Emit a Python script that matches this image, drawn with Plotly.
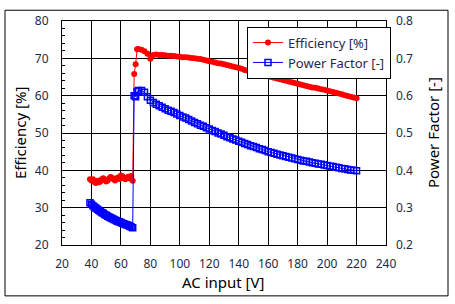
import plotly.graph_objects as go

# AC input voltage [V]
volt = [39, 40, 41, 42, 43, 44, 45, 46, 47, 48, 49, 50, 51, 52, 53, 54, 55, 56, 57, 58,
        59, 60, 61, 62, 63, 64, 65, 66, 67, 68, 69, 70, 71,
        72, 74, 76, 78, 80, 82, 84, 86, 88, 90, 92, 94, 96, 98, 100, 102, 104, 106, 108, 110,
        112, 114, 116, 118, 120, 122, 124, 126, 128, 130, 132, 134, 136, 138, 140, 142, 144,
        146, 148, 150, 152, 154, 156, 158, 160, 162, 164, 166, 168, 170, 172, 174, 176, 178,
        180, 182, 184, 186, 188, 190, 192, 194, 196, 198, 200, 202, 204, 206, 208, 210, 212,
        214, 216, 218, 220]

# Efficiency [%]
efficiency = [37.6, 37.3, 37.6, 36.9, 36.6, 37.2, 36.8, 37.0, 37.6, 37.9, 37.4, 37.0, 37.3, 37.8,
              38.2, 38.0, 37.6, 37.3, 37.8, 38.1, 37.7, 38.6, 38.4, 37.9, 37.6, 38.0, 38.3, 37.8,
              38.5, 37.2, 65.8, 68.4, 72.4,
              72.5, 72.3, 71.9, 71.2, 69.9, 70.9, 71.0, 70.9, 70.9, 70.8, 70.7, 70.7, 70.6, 70.5,
              70.4, 70.3, 70.3, 70.2, 70.1, 70.0, 69.9, 69.8, 69.6, 69.4, 69.2, 69.1, 68.9, 68.7,
              68.6, 68.4, 68.2, 68.0, 67.8, 67.6, 67.4, 67.2, 66.9, 66.7, 66.5, 66.3, 66.1, 65.9,
              65.6, 65.4, 65.2, 65.0, 64.8, 64.6, 64.4, 64.2, 64.0, 63.8, 63.6, 63.4, 63.2, 63.0,
              62.8, 62.6, 62.4, 62.2, 62.1, 61.9, 61.7, 61.6, 61.4, 61.2, 61.0, 60.8, 60.6, 60.4,
              60.1, 59.9, 59.7, 59.5, 59.3]

# Power factor [-]
power_factor = [0.313, 0.309, 0.305, 0.302, 0.299, 0.296, 0.293, 0.290, 0.287, 0.285, 0.282,
                0.280, 0.277, 0.275, 0.273, 0.271, 0.269, 0.267, 0.265, 0.263, 0.262, 0.260,
                0.258, 0.257, 0.255, 0.254, 0.252, 0.250, 0.248, 0.246, 0.600, 0.597, 0.611,
                0.614, 0.614, 0.609, 0.597, 0.588, 0.582, 0.577, 0.573, 0.569, 0.565, 0.561,
                0.558, 0.555, 0.551, 0.547, 0.543, 0.540, 0.536, 0.532, 0.528, 0.525, 0.521,
                0.518, 0.514, 0.511, 0.507, 0.504, 0.500, 0.497, 0.494, 0.490, 0.487, 0.484,
                0.481, 0.478, 0.475, 0.472, 0.469, 0.466, 0.464, 0.461, 0.458, 0.456, 0.453,
                0.450, 0.448, 0.446, 0.443, 0.441, 0.439, 0.437, 0.435, 0.433, 0.431, 0.429,
                0.427, 0.425, 0.424, 0.422, 0.420, 0.419, 0.417, 0.416, 0.414, 0.413, 0.411,
                0.410, 0.408, 0.407, 0.405, 0.404, 0.402, 0.401, 0.400, 0.399]

FONT = "Noto Sans"
TICKCOL = "#1c2b4a"

fig = go.Figure()
fig.add_trace(go.Scatter(
    x=volt, y=efficiency, name="Efficiency [%]", mode="lines+markers",
    line=dict(color="#ff0000", width=1),
    marker=dict(symbol="circle", size=6, color="#ff0000"),
))
fig.add_trace(go.Scatter(
    x=volt, y=power_factor, name="Power Factor [-]", mode="lines+markers", yaxis="y2",
    line=dict(color="#0000ff", width=1),
    marker=dict(symbol="square-open", size=6, color="#0000ff", line=dict(width=1.5)),
))

fig.update_layout(
    width=455, height=304,
    margin=dict(l=62, r=69, t=16, b=59),
    paper_bgcolor="white", plot_bgcolor="white",
    font=dict(family=FONT, size=12, color=TICKCOL),
    showlegend=True,
    legend=dict(x=0.571, y=0.975, xanchor="left", yanchor="top",
                bgcolor="white", bordercolor="black", borderwidth=1,
                font=dict(family=FONT, size=13, color="#1c2b4a"),
                tracegroupgap=0, itemwidth=30),
    xaxis=dict(range=[20, 240], dtick=20, tick0=20, showgrid=True, gridcolor="black", gridwidth=1,
               showline=True, linecolor="black", linewidth=1, mirror=True, ticks="",
               zeroline=False, ticklabelstandoff=8,
               tickfont=dict(family=FONT, size=12, color=TICKCOL)),
    yaxis=dict(range=[20, 80], dtick=10, tick0=20, showgrid=True, gridcolor="black", gridwidth=1,
               showline=True, linecolor="black", linewidth=1, mirror=True, ticks="",
               zeroline=False, ticklabelstandoff=10,
               minor=dict(dtick=2, ticks="inside", ticklen=3, tickcolor="black", showgrid=False),
               tickfont=dict(family=FONT, size=12, color=TICKCOL)),
    yaxis2=dict(range=[0.2, 0.8], dtick=0.1, tick0=0.2, overlaying="y", side="right",
                showgrid=False, showline=False, ticks="", zeroline=False, tickformat=".1f",
                ticklabelstandoff=9,
                tickfont=dict(family=FONT, size=12, color=TICKCOL)),
)

# outer frame
fig.add_shape(type="rect", xref="paper", yref="paper",
              x0=(5 - 62) / 324, x1=(448 - 62) / 324, y0=(245 - 297) / 229, y1=(245 - 5) / 229,
              line=dict(color="black", width=1), layer="below")

# axis titles
fig.add_annotation(text="AC input [V]", xref="paper", yref="paper", x=0.498, y=(245 - 283) / 229,
                   showarrow=False, font=dict(family=FONT, size=15, color="black"),
                   xanchor="center", yanchor="middle")
fig.add_annotation(text="Efficiency [%]", xref="paper", yref="paper", x=(20 - 62) / 324, y=0.5,
                   showarrow=False, textangle=-90, font=dict(family=FONT, size=15, color="black"),
                   xanchor="center", yanchor="middle")
fig.add_annotation(text="Power Factor [-]", xref="paper", yref="paper", x=(433 - 62) / 324, y=0.5,
                   showarrow=False, textangle=-90, font=dict(family=FONT, size=15, color="black"),
                   xanchor="center", yanchor="middle")

fig.write_html("out.html")
